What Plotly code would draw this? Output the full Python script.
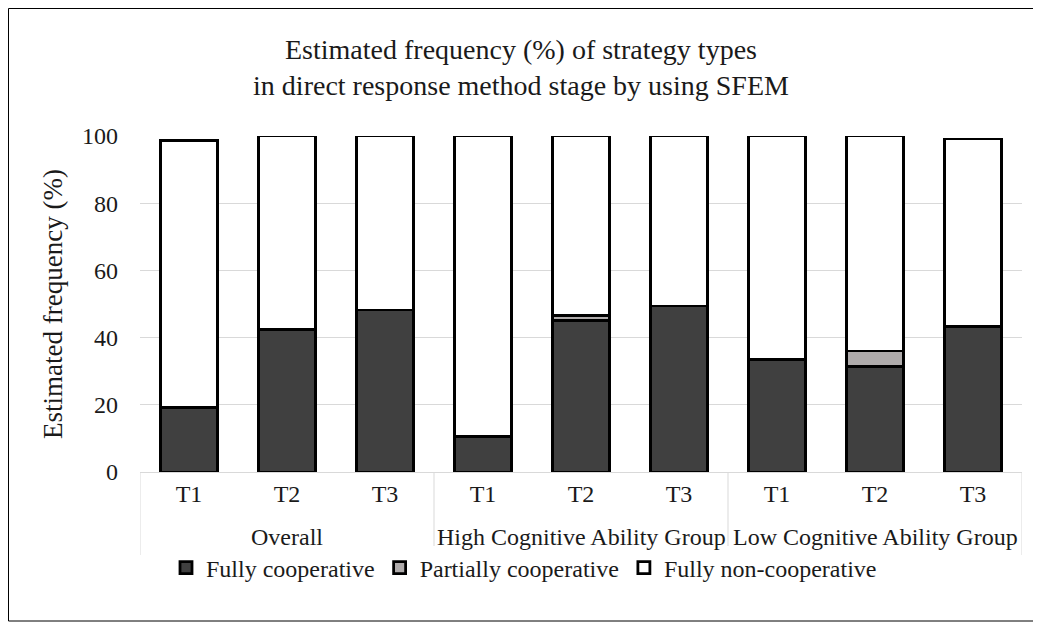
import plotly.graph_objects as go

group_names = ["Overall", "High Cognitive Ability Group", "Low Cognitive Ability Group"]
time_labels = ["T1", "T2", "T3"]
fully_coop = [19.3, 42.3, 48.2, 10.5, 45.2, 49.4, 33.6, 31.3, 43.2]
partial_coop = [0.0, 0.0, 0.0, 0.0, 1.3, 0.0, 0.0, 4.7, 0.0]
fully_non = [79.3, 57.7, 51.8, 89.5, 53.5, 50.6, 66.4, 64.0, 55.9]

n_t = len(time_labels)
xpos = list(range(len(group_names) * n_t))
ticktext = time_labels * len(group_names)

# the page body adds an 8px offset; compensate in the margins
W, H = 1041, 624
L, T = 132, 128
pw, ph = 882, 336
R, B = W - L - pw, H - T - ph


def py(fig_px):  # figure pixel y -> paper y
    return (T + ph - fig_px) / ph


def px(fig_px):  # figure pixel x -> paper x
    return (fig_px - L) / pw


font = "Liberation Serif, Times New Roman, serif"
fig = go.Figure()
for name, vals, col in [("Fully cooperative", fully_coop, "#404040"),
                        ("Partially cooperative", partial_coop, "#AFABAB"),
                        ("Fully non-cooperative", fully_non, "#FFFFFF")]:
    fig.add_trace(go.Bar(x=xpos, y=vals, name=name, width=0.58,
                         marker=dict(color=col, line=dict(color="black", width=2.8))))

# group labels and dividers of the two-level category axis
for gi, g in enumerate(group_names):
    members = xpos[gi * n_t:(gi + 1) * n_t]
    fig.add_annotation(x=sum(members) / n_t, xref="x", y=py(529), yref="paper",
                       text=g, showarrow=False, yanchor="middle",
                       font=dict(size=24, family=font, color="#1a1a1a"))
bounds = [xpos[0] - 0.5] + [xpos[(gi + 1) * n_t - 1] + 0.5 for gi in range(len(group_names))]
for b in bounds:
    fig.add_shape(type="line", xref="x", yref="paper", x0=b, x1=b, y0=0, y1=py(547),
                  line=dict(color="#d9d9d9", width=1), layer="below")

fig.update_layout(
    width=W, height=H, barmode="stack",
    margin=dict(l=L, r=R, t=T, b=B, autoexpand=False),
    paper_bgcolor="white", plot_bgcolor="white",
    font=dict(family=font, size=24, color="#1a1a1a"),
    title=dict(text="Estimated frequency (%) of strategy types<br>in direct response method stage by using SFEM",
               x=513 / W, xanchor="center", y=1 - 51 / H, yanchor="top",
               font=dict(size=28, family=font, color="#1a1a1a")),
    legend=dict(orientation="h", x=px(516), xanchor="center", y=py(560), yanchor="middle",
                font=dict(size=24, family=font), traceorder="normal", itemwidth=30),
    xaxis=dict(range=[xpos[0] - 0.5, xpos[-1] + 0.5], tickmode="array", tickvals=xpos,
               ticktext=ticktext, showline=True, linecolor="#d9d9d9", linewidth=1,
               showgrid=False, zeroline=False, tickfont=dict(size=24, family=font)),
    yaxis=dict(range=[0, 100], dtick=20, showgrid=True, gridcolor="#d9d9d9", gridwidth=1,
               zeroline=False, tickfont=dict(size=24, family=font), ticklabelstandoff=21,
               title=dict(text="Estimated frequency (%)", font=dict(size=27, family=font), standoff=11)),
)
fig.add_shape(type="rect", xref="paper", yref="paper",
              x0=px(0.5), x1=px(W - 10), y0=py(H - 11), y1=py(0.5),
              line=dict(color="black", width=1), fillcolor="rgba(0,0,0,0)", layer="below")
fig.write_html("out.html")
